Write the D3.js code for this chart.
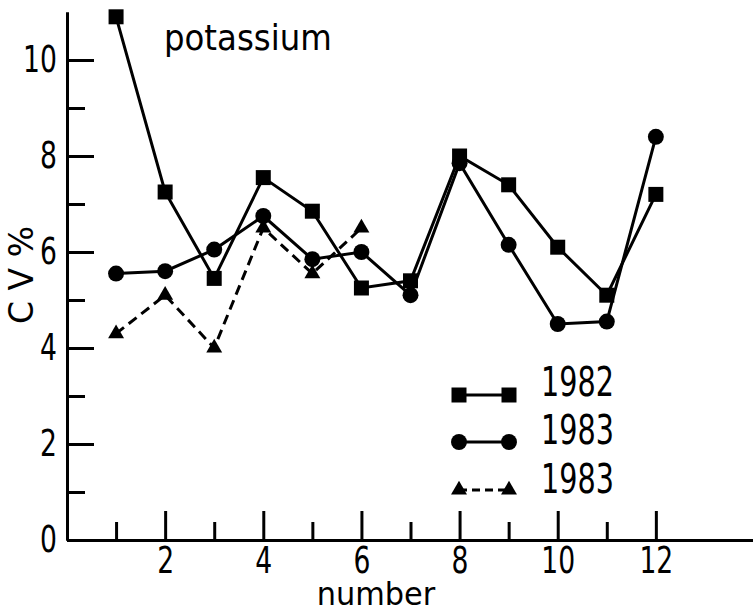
<!DOCTYPE html>
<html>
<head>
<meta charset="utf-8">
<script src="https://cdn.jsdelivr.net/npm/d3@7"></script>
<style>
    body { margin: 0; background: #fff; }
    svg text { font-family: "DejaVu Sans", sans-serif; fill: #000; }
    .axis path, .axis line { stroke: #000; stroke-width: 3; }
</style>
</head>
<body>
<svg width="753" height="612"></svg>
<script>
// values
var numbers = [1, 2, 3, 4, 5, 6, 7, 8, 9, 10, 11, 12];
var cv1982 = [10.9, 7.25, 5.45, 7.55, 6.85, 5.25, 5.4, 8.0, 7.4, 6.1, 5.1, 7.2];
var cv1983 = [5.55, 5.6, 6.05, 6.75, 5.85, 6.0, 5.1, 7.85, 6.15, 4.5, 4.55, 8.4];
var cv1983b = [4.3, 5.1, 4.0, 6.5, 5.55, 6.5];
var xMajor = [2, 4, 6, 8, 10, 12], xMinor = [1, 3, 5, 7, 9, 11];
var yMajor = [0, 2, 4, 6, 8, 10], yMinor = [1, 3, 5, 7, 9];
var legendLabels = ["1982", "1983", "1983"];

var svg = d3.select("svg");
var x = d3.scaleLinear().domain([0, 14]).range([67, 754]);
var y = d3.scaleLinear().domain([0, 11]).range([540, 12]);

// x axis: ticks pointing up
svg.append("g").attr("class", "axis")
    .attr("transform", "translate(0,540)")
    .call(d3.axisBottom(x).tickValues(xMinor).tickSizeInner(-18).tickSizeOuter(0).tickFormat(""));
var gx = svg.append("g").attr("class", "axis")
    .attr("transform", "translate(0,540)")
    .call(d3.axisBottom(x).tickValues(xMajor).tickSizeInner(-29).tickSizeOuter(0).tickPadding(7));
gx.selectAll("text").attr("font-size", 37).attr("transform", "scale(0.72,1)");

// y axis: ticks pointing right
svg.append("g").attr("class", "axis")
    .attr("transform", "translate(67,0)")
    .call(d3.axisLeft(y).tickValues(yMinor).tickSizeInner(-18).tickSizeOuter(0).tickFormat(""));
var gy = svg.append("g").attr("class", "axis")
    .attr("transform", "translate(67,0)")
    .call(d3.axisLeft(y).tickValues(yMajor).tickSizeInner(-27).tickSizeOuter(0).tickPadding(14));
gy.selectAll("text").attr("font-size", 37).attr("transform", "scale(0.72,1)");
svg.selectAll(".axis text").attr("fill", "#000");

// series
var line = d3.line().x(function(d) { return x(d[0]); }).y(function(d) { return y(d[1]); });
function pts(vals) { return vals.map(function(v, i) { return [numbers[i], v]; }); }

var series = [
    { vals: cv1982, sym: d3.symbolSquare, size: 225, dash: null },
    { vals: cv1983, sym: d3.symbolCircle, size: 200, dash: null },
    { vals: cv1983b, sym: d3.symbolTriangle, size: 110, dash: "10,6" }
];

series.forEach(function(s) {
    svg.append("path")
        .attr("d", line(pts(s.vals)))
        .attr("fill", "none").attr("stroke", "#000").attr("stroke-width", 3)
        .attr("stroke-dasharray", s.dash);
    svg.selectAll(null).data(pts(s.vals)).enter().append("path")
        .attr("d", d3.symbol().type(s.sym).size(s.size))
        .attr("transform", function(d) { return "translate(" + x(d[0]) + "," + y(d[1]) + ")"; })
        .attr("fill", "#000");
});

// title
svg.append("text").attr("transform", "translate(164,50) scale(0.9,1)")
    .attr("font-size", 36).text("potassium");

// axis titles
svg.append("text").attr("transform", "translate(376,605) scale(0.95,1)")
    .attr("text-anchor", "middle").attr("font-size", 32).text("number");
svg.append("text").attr("transform", "translate(33,275) rotate(-90)")
    .attr("text-anchor", "middle").attr("font-size", 33).text("C V %");

// legend
var legY = [395, 442, 490], textY = [396, 444, 493];
series.forEach(function(s, i) {
    svg.append("line")
        .attr("x1", 459).attr("x2", 509).attr("y1", legY[i]).attr("y2", legY[i])
        .attr("stroke", "#000").attr("stroke-width", 3)
        .attr("stroke-dasharray", s.dash ? "8,5" : null);
    [459, 509].forEach(function(cx) {
        svg.append("path")
            .attr("d", d3.symbol().type(s.sym).size(s.size))
            .attr("transform", "translate(" + cx + "," + legY[i] + ")")
            .attr("fill", "#000");
    });
    svg.append("text")
        .attr("transform", "translate(541," + textY[i] + ") scale(0.7,1)")
        .attr("font-size", 41).text(legendLabels[i]);
});
</script>
</body>
</html>
